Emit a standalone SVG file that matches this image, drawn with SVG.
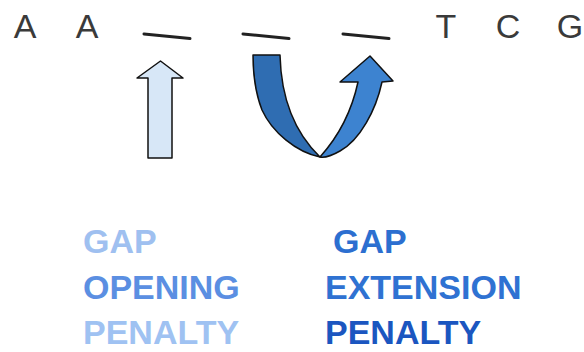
<svg xmlns="http://www.w3.org/2000/svg" width="584" height="352" viewBox="0 0 584 352">
<style>
.seq{font-family:"Liberation Sans",Arial,sans-serif;font-size:34px;fill:#3a3a3a;text-anchor:middle}
.dash{stroke:#222;stroke-width:3;stroke-linecap:round}
.lbl{font-family:"Liberation Sans",Arial,sans-serif;font-size:34px;font-weight:bold}
.out{stroke:#111;stroke-width:1.5;stroke-linejoin:round}
</style>
<rect width="584" height="352" fill="#fff"/>
<g id="sequence">
<text class="seq" x="25" y="38">A</text>
<text class="seq" x="87" y="38">A</text>
<line class="dash" x1="144" y1="34" x2="190" y2="38.5"/>
<line class="dash" x1="243" y1="34" x2="289" y2="38.5"/>
<line class="dash" x1="343" y1="34" x2="389" y2="38.5"/>
<text class="seq" x="446" y="38">T</text>
<text class="seq" x="508" y="38">C</text>
<text class="seq" x="570" y="38">G</text>
</g>
<g id="opening-arrow">
<path class="out" fill="#d7e7f7" d="M160.5,61 L183,78 L172,78 L172,158 L148,158 L148,78 L137,78 Z"/>
</g>
<g id="extension-arrow">
<path class="out" fill="#2f6db2" d="M253,55 L280,55 C281,95 292,130 320,157 C296,152 272,132 262,110 C255,92 253,75 253,55 Z"/>
<path class="out" fill="#3d83d0" d="M320,157 C338,137 352,110 358,82 L340,82 L370,56 L393,81 L382,82 C376,110 360,140 340,151 C333,155 326,158 320,157 Z"/>
</g>
<g id="labels">
<text class="lbl" x="83" y="253" fill="#9fc0f0">GAP</text>
<text class="lbl" x="83" y="299" fill="#5b8fe2">OPENING</text>
<text class="lbl" x="83" y="344" fill="#9fc2f2">PENALTY</text>
<text class="lbl" x="333" y="253" fill="#2c6fd0">GAP</text>
<text class="lbl" x="325" y="299" fill="#2f72d2">EXTENSION</text>
<text class="lbl" x="325" y="344" fill="#1b56c0">PENALTY</text>
</g>
</svg>
